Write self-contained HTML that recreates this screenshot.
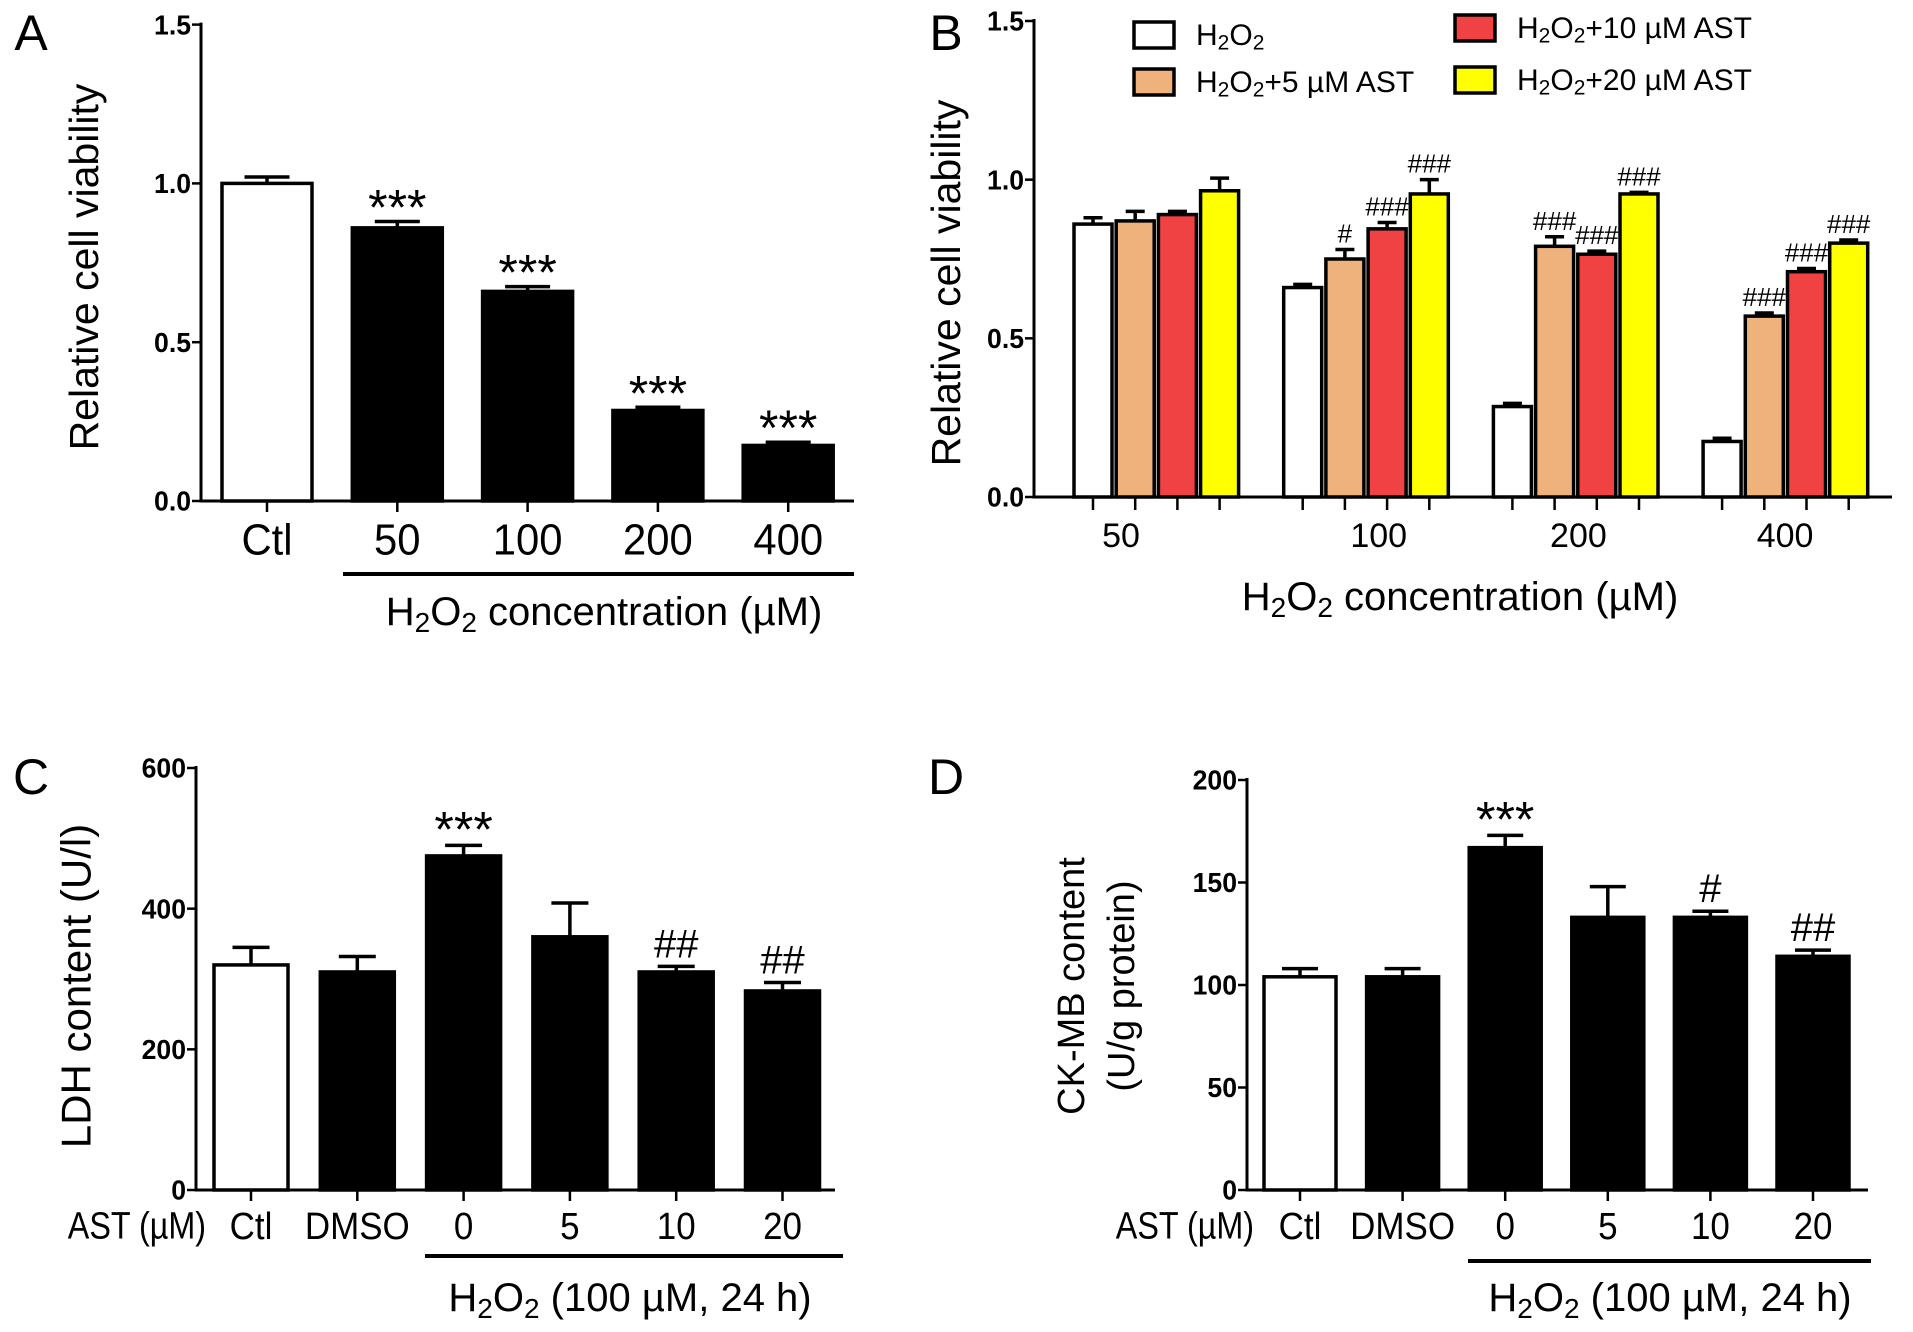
<!DOCTYPE html>
<html><head><meta charset="utf-8"><style>
html,body{margin:0;padding:0;background:#fff;}
svg{display:block;font-family:"Liberation Sans",Arial,sans-serif;}
</style></head><body>
<svg id="fig" width="1913" height="1332" viewBox="0 0 1913 1332" xmlns="http://www.w3.org/2000/svg"></svg>
<script>
// ---- Panel A data ----
const aCategories = ["Ctl","50","100","200","400"];
const aValues = [1.0, 0.86, 0.66, 0.285, 0.175];
const aErrors = [0.02, 0.02, 0.015, 0.01, 0.01];
const aMarks = ["", "***", "***", "***", "***"];
const aTicks = [0, 0.5, 1.0, 1.5];
const aTickLabels = ["0.0","0.5","1.0","1.5"];
// ---- Panel B data ----
const bCategories = ["50","100","200","400"];
const bSeriesNames = ["H2O2","H2O2+5 µM AST","H2O2+10 µM AST","H2O2+20 µM AST"];
const bH2O2 = [0.86, 0.66, 0.285, 0.175];
const bAst5 = [0.87, 0.75, 0.79, 0.57];
const bAst10 = [0.89, 0.845, 0.765, 0.71];
const bAst20 = [0.965, 0.955, 0.955, 0.80];
const bErrH2O2 = [0.02, 0.01, 0.01, 0.01];
const bErr5 = [0.03, 0.03, 0.03, 0.01];
const bErr10 = [0.01, 0.02, 0.01, 0.01];
const bErr20 = [0.04, 0.045, 0.005, 0.01];
const bMarks5 = ["", "#", "###", "###"];
const bMarks10 = ["", "###", "###", "###"];
const bMarks20 = ["", "###", "###", "###"];
const bTicks = [0, 0.5, 1.0, 1.5];
const bTickLabels = ["0.0","0.5","1.0","1.5"];
// ---- Panel C data ----
const cCategories = ["Ctl","DMSO","0","5","10","20"];
const cValues = [320, 310, 475, 360, 310, 283];
const cErrors = [25, 22, 15, 48, 8, 12];
const cMarks = ["", "", "***", "", "##", "##"];
const cTicks = [0, 200, 400, 600];
const cTickLabels = ["0","200","400","600"];
// ---- Panel D data ----
const dCategories = ["Ctl","DMSO","0","5","10","20"];
const dValues = [104, 104, 167, 133, 133, 114];
const dErrors = [4, 4, 6, 15, 3, 3];
const dMarks = ["", "", "***", "", "#", "##"];
const dTicks = [0, 50, 100, 150, 200];
const dTickLabels = ["0","50","100","150","200"];

const NS = "http://www.w3.org/2000/svg";
const svg = document.getElementById("fig");
function mk(tag, attrs, parent){
  const e = document.createElementNS(NS, tag);
  for (const k in attrs) e.setAttribute(k, attrs[k]);
  (parent||svg).appendChild(e);
  return e;
}
function txt(x, y, s, size, opts){
  opts = opts || {};
  const sx = opts.sx || 1;
  const t = mk("text", {x:0, y:0, "font-size":size, "text-anchor":opts.anchor||"middle",
    "dominant-baseline":"central", "font-weight":opts.bold?"bold":"normal", fill:"#000",
    transform:"translate("+x+","+y+") rotate("+(opts.rot||0)+") scale("+sx+",1)"}, opts.parent);
  t.textContent = s;
  return t;
}
function h2o2(t, rest, size){
  t.textContent = "";
  const parts = ["H","2","O","2",rest];
  parts.forEach(p=>{
    const ts = document.createElementNS(NS,"tspan");
    ts.textContent = p;
    t.appendChild(ts);
  });
  const spans = t.querySelectorAll("tspan");
  spans[1].setAttribute("font-size", size*0.7); spans[1].setAttribute("dy", size*0.25);
  spans[2].setAttribute("dy", -size*0.25);
  spans[3].setAttribute("font-size", size*0.7); spans[3].setAttribute("dy", size*0.25);
  spans[4].setAttribute("dy", -size*0.25);
}

function axes(g, x0, yTop, y0, xEnd, ticks, labels, scale, name){
  const ax = mk("g", {}, g);
  
  
  mk("line", {x1:x0, y1:yTop-2, x2:x0, y2:y0+1.5, stroke:"#000", "stroke-width":3}, ax);
  mk("line", {x1:x0-1.5, y1:y0, x2:xEnd, y2:y0, stroke:"#000", "stroke-width":3}, ax);
  ticks.forEach((v,i)=>{
    const y = scale(v);
    mk("line", {x1:x0-9, y1:y, x2:x0, y2:y, stroke:"#000", "stroke-width":2.5}, ax);
    const t = txt(x0-10, y, labels[i], 28, {anchor:"end", bold:true, sx:0.95, parent:ax});
    
    
  });
}
function bar(g, x, w, val, err, fill, scale, y0, name){
  const yt = scale(val), ye = scale(val+err);
  const r = mk("rect", {x:x, y:yt, width:w, height:y0-yt, fill:fill, stroke:"#000", "stroke-width":3.5}, g);
  
  
  const e = mk("path", {d:"M"+(x+w/2)+","+yt+"V"+ye+"M"+(x+w/2-w*0.25)+","+ye+"H"+(x+w/2+w*0.25), stroke:"#000", "stroke-width":3.5, fill:"none"}, g);
  
  
  return ye;
}

// ===== Panel A =====
(function(){
  const g = mk("g", {});
  
  
  const x0=201, y0=501, yTop=24.6, xEnd=854;
  const sy = v => y0 - v/1.5*(y0-yTop);
  axes(g, x0, yTop, y0, xEnd, aTicks, aTickLabels, sy, "panel-a");
  aCategories.forEach((c,i)=>{
    const cx = 267 + i*130.3, w = 90;
    const ye = bar(g, cx-w/2, w, aValues[i], aErrors[i], i===0?"#fff":"#000", sy, y0, "bar-a-"+c);
    mk("line", {x1:cx, y1:y0, x2:cx, y2:y0+11, stroke:"#000","stroke-width":2.5}, g);
    const l = txt(cx, 540, c, 44, {sx:0.95, parent:g});
    
    
    if (aMarks[i]) { const m = txt(cx, ye-14, aMarks[i], 50, {parent:g});
      
       }
  });
  const ul = mk("line", {x1:343, y1:574, x2:854, y2:574, stroke:"#000","stroke-width":4}, g);
  
  
  const xt = txt(604, 612, "", 40, {parent:g}); h2o2(xt, " concentration (µM)", 40);
  
  
  const yt = txt(84, 267, "Relative cell viability", 41, {rot:-90, parent:g});
  
  
  const pl = txt(31, 33, "A", 50, {parent:g});
  
  
})();

// ===== Panel B =====
(function(){
  const g = mk("g", {});
  
  
  const x0=1034, y0=497, yTop=21, xEnd=1892;
  const sy = v => y0 - v/1.5*(y0-yTop);
  axes(g, x0, yTop, y0, xEnd, bTicks, bTickLabels, sy, "panel-b");
  const series = [bH2O2, bAst5, bAst10, bAst20];
  const errs = [bErrH2O2, bErr5, bErr10, bErr20];
  const marks = [null, bMarks5, bMarks10, bMarks20];
  const fills = ["#ffffff", "#f0b27c", "#f04242", "#ffff00"];
  const labelOff = [47, 95, 85, 82];
  bCategories.forEach((c,i)=>{
    const gx = 1074 + i*209.7;
    series.forEach((s,j)=>{
      const x = gx + j*42.2, w = 38;
      const ye = bar(g, x, w, s[i], errs[j][i], fills[j], sy, y0, "bar-b-"+c+"-s"+j);
      mk("line", {x1:x+w/2, y1:y0, x2:x+w/2, y2:y0+13, stroke:"#000","stroke-width":2.5}, g);
      if (marks[j] && marks[j][i]) { const m = txt(x+w/2, ye-16, marks[j][i], 26, {parent:g});
        
         }
    });
    const l = txt(gx+labelOff[i], 536, c, 34, {parent:g});
    
    
  });
  const xt = txt(1460, 597, "", 40, {parent:g}); h2o2(xt, " concentration (µM)", 40);
  
  
  const yt = txt(946, 283, "Relative cell viability", 41, {rot:-90, parent:g});
  
  
  const pl = txt(946, 33, "B", 50, {parent:g});
  
  
  // legend
  const lpos = [[1134,35],[1134,82],[1455,28],[1455,80]];
  bSeriesNames.forEach((n,j)=>{
    const lg = mk("g", {}, g);
    
    
    const [lx,ly] = lpos[j];
    mk("rect", {x:lx, y:ly-13, width:40, height:26, fill:fills[j], stroke:"#000","stroke-width":3.5}, lg);
    const t = txt(lx+62, ly, "", 30, {anchor:"start", parent:lg});
    h2o2(t, n.slice(4), 30);
  });
})();

// ===== Panels C & D =====
function lowerPanel(opts){
  const g = mk("g", {});
  
  
  const sy = v => opts.y0 - v/opts.max*(opts.y0-opts.yTop);
  axes(g, opts.x0, opts.yTop, opts.y0, opts.xEnd, opts.ticks, opts.tickLabels, sy, opts.name);
  opts.cats.forEach((c,i)=>{
    const cx = opts.c0 + i*opts.step, w = opts.w;
    const ye = bar(g, cx-w/2, w, opts.vals[i], opts.errs[i], i===0?"#fff":"#000", sy, opts.y0, "bar-"+opts.name+"-"+c);
    mk("line", {x1:cx, y1:opts.y0, x2:cx, y2:opts.y0+11, stroke:"#000","stroke-width":2.5}, g);
    const l = txt(cx, 1226, c, 38, {sx:0.92, parent:g});
    
    
    if (opts.marks[i]) {
      const star = opts.marks[i][0]==="*";
      const m = txt(cx, ye-(star?16:22), opts.marks[i], star?50:40, {parent:g});
      
       }
  });
  const a = txt(opts.astX, 1226, "AST (µM)", 38, {anchor:"end", sx:0.85, parent:g});
  
  
  const ul = mk("line", {x1:opts.ulX1, y1:opts.ulY, x2:opts.ulX2, y2:opts.ulY, stroke:"#000","stroke-width":4}, g);
  
  
  const xt = txt(opts.titleX, 1298, "", 40, {parent:g}); h2o2(xt, " (100 µM, 24 h)", 40);
  
  
  opts.ylab.forEach((s,k)=>{
    const yt = txt(opts.ylabX[k], opts.ylabY, s, opts.ylabSize, {rot:-90, parent:g});
    
    
  });
  const pl = txt(opts.plX, 777, opts.letter, 50, {parent:g});
  
  
}
lowerPanel({name:"panel-c", letter:"C", x0:196, yTop:768, y0:1190, xEnd:835, max:600,
  ticks:cTicks, tickLabels:cTickLabels, cats:cCategories, vals:cValues, errs:cErrors, marks:cMarks,
  c0:251, step:106.3, w:74, astX:206, ulX1:425, ulX2:843, ulY:1256, titleX:630,
  ylab:["LDH content (U/l)"], ylabX:[76], ylabY:986, ylabSize:42, plX:31});
lowerPanel({name:"panel-d", letter:"D", x0:1247, yTop:780, y0:1190, xEnd:1868, max:200,
  ticks:dTicks, tickLabels:dTickLabels, cats:dCategories, vals:dValues, errs:dErrors, marks:dMarks,
  c0:1300, step:102.6, w:72, astX:1254, ulX1:1468, ulX2:1871, ulY:1261, titleX:1670,
  ylab:["CK-MB content","(U/g protein)"], ylabX:[1072,1122], ylabY:986, ylabSize:38, plX:946});
</script>
</body></html>
